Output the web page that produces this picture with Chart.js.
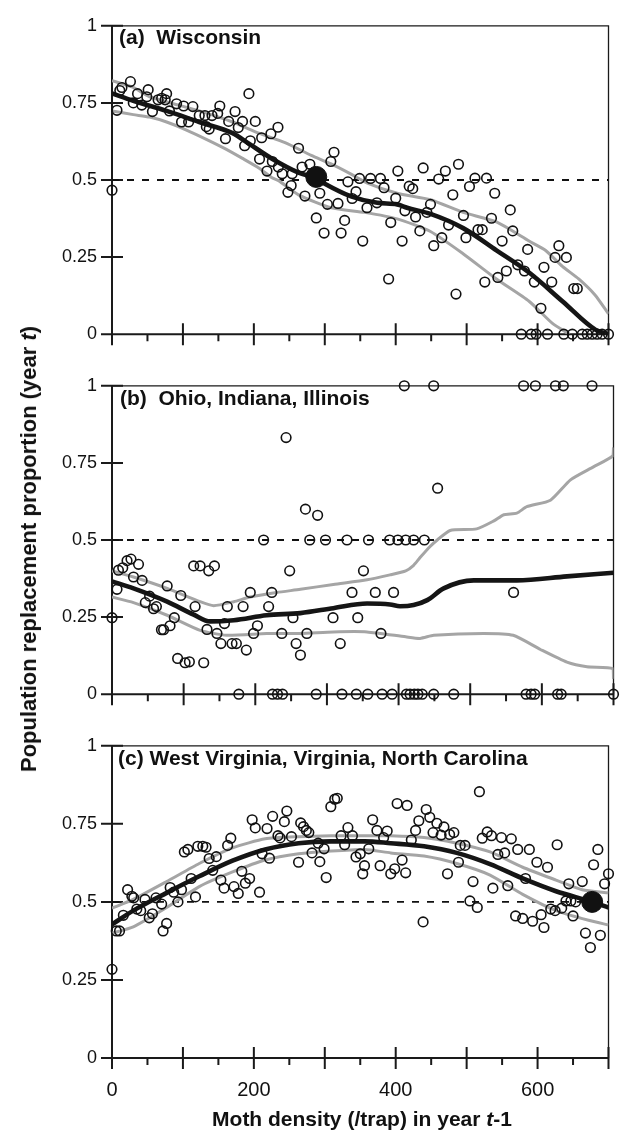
<!DOCTYPE html>
<html><head><meta charset="utf-8">
<script src="https://cdn.jsdelivr.net/npm/chart.js@4.4.1/dist/chart.umd.min.js"></script>
<style>
html,body{margin:0;padding:0;background:#fff;}
body{width:620px;height:1132px;position:relative;overflow:hidden;font-family:"Liberation Sans",Arial,Helvetica,sans-serif;color:#111;}
canvas{position:absolute;left:0;}
.ptitle{position:absolute;font-weight:bold;font-size:21px;line-height:21px;white-space:pre;}
#xtitle{position:absolute;font-weight:bold;font-size:21px;line-height:21px;white-space:pre;left:362px;top:1108px;transform:translateX(-50%);}
#ytitle{position:absolute;font-weight:bold;font-size:22px;line-height:22px;white-space:pre;left:29px;top:549px;transform:translate(-50%,-50%) rotate(-90deg);}
</style></head>
<body>
<canvas id="ca" width="620" height="360" style="top:0px"></canvas>
<canvas id="cb" width="620" height="360" style="top:360px"></canvas>
<canvas id="cc" width="620" height="412" style="top:720px"></canvas>
<div class="ptitle" id="ta" style="left:119px;top:26px"></div>
<div class="ptitle" id="tb" style="left:120px;top:387px"></div>
<div class="ptitle" id="tc" style="left:118px;top:747px"></div>
<div id="xtitle">Moth density (/trap) in year <i>t</i>-1</div>
<div id="ytitle">Population replacement proportion (year <i>t</i>)</div>
<script>
// ---- tick labels / titles ----
const xTickValues = [0, 200, 400, 600];
const xTickLabels = ['0', '200', '400', '600'];
const xMajorTicks = [0, 100, 200, 300, 400, 500, 600, 700];
const xMinorTicks = [50, 150, 250, 350, 450, 550, 650];
const yTickValues = [0, 0.25, 0.5, 0.75, 1];
const yTickLabels = ['0', '0.25', '0.5', '0.75', '1'];
const panelTitles = ['(a)  Wisconsin', '(b)  Ohio, Indiana, Illinois', '(c) West Virginia, Virginia, North Carolina'];
const refLevel = 0.5;

// ---- panel (a) Wisconsin ----
const aPtsX = [0,7,11,14,26,30,36,42,49,51,57,65,70,75,77,81,91,98,101,108,114,123,131,133,137,141,149,152,160,164.5,173.5,178,184,187,193,195,202,208,211,218.5,224,226,234,234.5,240,248,252.6,254,263,268,272,279,288,293,299,303.7,308.5,313,318.6,323,328,332.6,338.6,344,349,353.5,359.5,364.5,373.5,378.5,383.5,390,393,400,403,409,413,419,424,428,434,438.7,444,449,453.6,460.6,465,470,474.5,480.5,485,488.5,495.5,499,504,511.7,516,522,525.6,528,535,539.6,544,550,556,561.5,565,572,581.5,586,595.4,604.7,609,620,624.7,630,640.6,651,656,577,591,598,614,637,649,663,670,677,684,691,700];
const aPtsY = [0.467,0.726,0.79,0.80,0.819,0.75,0.78,0.743,0.77,0.793,0.722,0.76,0.765,0.76,0.78,0.724,0.747,0.688,0.74,0.688,0.738,0.709,0.709,0.673,0.665,0.709,0.716,0.74,0.634,0.69,0.722,0.67,0.69,0.611,0.78,0.627,0.69,0.568,0.637,0.529,0.65,0.56,0.671,0.542,0.52,0.46,0.482,0.52,0.603,0.542,0.448,0.551,0.377,0.457,0.328,0.421,0.56,0.59,0.424,0.328,0.369,0.494,0.44,0.462,0.505,0.302,0.41,0.505,0.426,0.505,0.475,0.179,0.362,0.441,0.529,0.302,0.40,0.48,0.472,0.38,0.335,0.539,0.395,0.421,0.287,0.503,0.313,0.529,0.354,0.452,0.13,0.551,0.385,0.313,0.479,0.506,0.339,0.339,0.169,0.506,0.376,0.457,0.184,0.302,0.205,0.403,0.335,0.225,0.205,0.275,0.169,0.084,0.217,0.169,0.249,0.287,0.249,0.148,0.148,0,0,0,0,0,0,0,0,0,0,0,0];
const aEquilX = [288];
const aEquilY = [0.51];
const aMeanX = [0,30,77,123,170,193,225,263,288,300,337,374,402,416,449,495,542,588,635,682,700];
const aMeanY = [0.781,0.757,0.724,0.688,0.652,0.618,0.57,0.524,0.505,0.488,0.447,0.426,0.421,0.41,0.39,0.344,0.272,0.2,0.107,0.014,0];
const aUpX = [0,30,53,123,170,207,244,281,309,337,360,402,449,495,542,588,611,635,658,681,700];
const aUpY = [0.822,0.80,0.77,0.724,0.688,0.652,0.621,0.58,0.552,0.519,0.49,0.457,0.436,0.395,0.364,0.302,0.272,0.22,0.179,0.127,0.066];
const aLowX = [0,30,53,77,105,133,160,184,207,225,235,263,309,356,402,449,495,542,588,621,645];
const aLowY = [0.724,0.712,0.704,0.688,0.662,0.632,0.601,0.57,0.539,0.508,0.498,0.452,0.41,0.395,0.374,0.333,0.261,0.179,0.107,0.035,0];

// ---- panel (b) Ohio, Indiana, Illinois ----
const bPtsX = [0,7,9,15,21,26.5,30,37,42,46.5,52.5,58,62,69,72,77,81,87,91.6,96,102,108,114,116,123,128,132.6,135,143,146.5,152,157,161,167.5,173.6,183,187.5,193,197.6,203,211.6,218.6,223,237,243,248,252.6,257,263,270,272,276,287,298,308.5,318.6,328,335,343,351,358,367.5,375.4,387.5,393,399,410,421,436,454.5,560.5,408,449,574.5,591,619,630,670,177,224,231,238,285,321,341,357,377,391,411,416,422,427,433,449,477,578,585,590,622,627,700];
const bPtsY = [0.248,0.34,0.402,0.41,0.433,0.438,0.38,0.421,0.369,0.297,0.318,0.277,0.284,0.209,0.209,0.351,0.222,0.248,0.116,0.32,0.102,0.105,0.416,0.284,0.416,0.102,0.21,0.4,0.416,0.197,0.164,0.229,0.284,0.164,0.164,0.284,0.143,0.33,0.197,0.222,0.5,0.284,0.33,0.197,0.832,0.4,0.248,0.164,0.127,0.6,0.197,0.5,0.58,0.5,0.248,0.164,0.5,0.33,0.248,0.4,0.5,0.33,0.197,0.5,0.33,0.5,0.5,0.5,0.5,0.668,0.33,1,1,1,1,1,1,1,0,0,0,0,0,0,0,0,0,0,0,0,0,0,0,0,0,0,0,0,0,0,0];
const bMeanX = [0,30,77,114,137,170,216,263,309,356,388,402,421,440,463,505,565,635,700];
const bMeanY = [0.366,0.343,0.3,0.258,0.236,0.24,0.256,0.263,0.279,0.294,0.291,0.285,0.289,0.305,0.343,0.369,0.369,0.382,0.394];
const bUpX = [0,30,77,123,142,170,193,230,263,309,356,388,410,421,430,444,454,472,509,533,547,565,579,612,640,672,699,700];
const bUpY = [0.40,0.38,0.343,0.3,0.287,0.3,0.315,0.33,0.34,0.356,0.371,0.387,0.40,0.418,0.443,0.479,0.5,0.531,0.536,0.562,0.582,0.587,0.608,0.629,0.695,0.737,0.773,0.80];
const bLowX = [0,30,77,123,160,216,263,309,356,410,430,449,519,560,598,635,663,699,700];
const bLowY = [0.315,0.297,0.256,0.207,0.191,0.197,0.197,0.202,0.202,0.186,0.181,0.191,0.197,0.191,0.145,0.104,0.089,0.083,0.05];

// ---- panel (c) West Virginia, Virginia, North Carolina ----
const cPtsX = [0,6,10.6,16,22,28,30.6,35,40.5,46.5,52.5,57,62,70,72,77,82,87,93,98,102,107,111.6,117.7,121,128,132.6,137,142,147,153.5,158,163,167.5,172,178,183,188,194,197.6,202,208,211.6,218.6,222,226.5,234,237,243,246.5,253,263,266,270,274,277.5,282,290.7,293,299,302,308.5,314,317.6,323,328,332.6,339,344,350,353.5,356,362,367.5,373.5,378,383,388,393,398.6,402,409,414,416,422,428,432.6,438.6,443,448,452.6,458,464,468,473,476,482,488.5,491,497.7,504.6,509,515,518,522,529,535,537,544,549,553.6,558,563,569,572,579,583,588.4,593,599,605,609,614,618.6,624.7,627.6,634,640,644,647,650,653.6,663,667.5,674.5,679,685,688.5,694.5,700];
const cPtsY = [0.284,0.407,0.407,0.457,0.539,0.518,0.513,0.477,0.472,0.508,0.449,0.462,0.513,0.493,0.407,0.431,0.546,0.531,0.5,0.539,0.66,0.668,0.575,0.516,0.678,0.678,0.675,0.639,0.601,0.645,0.57,0.544,0.681,0.704,0.549,0.527,0.598,0.56,0.575,0.763,0.737,0.531,0.654,0.735,0.64,0.774,0.712,0.705,0.757,0.791,0.709,0.627,0.753,0.741,0.729,0.722,0.657,0.688,0.629,0.67,0.578,0.805,0.829,0.832,0.712,0.683,0.738,0.712,0.644,0.654,0.59,0.616,0.67,0.763,0.729,0.616,0.706,0.727,0.59,0.606,0.815,0.634,0.593,0.809,0.698,0.729,0.76,0.436,0.796,0.771,0.722,0.752,0.714,0.74,0.59,0.716,0.722,0.627,0.681,0.681,0.503,0.565,0.482,0.853,0.704,0.724,0.712,0.544,0.652,0.706,0.657,0.552,0.702,0.455,0.668,0.447,0.575,0.668,0.438,0.627,0.459,0.418,0.611,0.477,0.472,0.683,0.48,0.503,0.558,0.503,0.455,0.5,0.565,0.4,0.354,0.619,0.668,0.393,0.558,0.59];
const cEquilX = [677];
const cEquilY = [0.5];
const cMeanX = [0,30,77,123,170,216,263,309,356,393,440,486,533,579,626,677,700];
const cMeanY = [0.428,0.472,0.529,0.582,0.632,0.668,0.688,0.694,0.694,0.688,0.678,0.657,0.621,0.575,0.534,0.5,0.482];
const cUpX = [0,30,77,123,170,216,263,309,356,393,440,486,533,579,626,663,700];
const cUpY = [0.48,0.508,0.565,0.623,0.673,0.702,0.709,0.712,0.712,0.712,0.706,0.688,0.66,0.611,0.57,0.539,0.529];
const cLowX = [0,30,77,123,170,216,263,309,356,393,440,486,533,579,626,672,700];
const cLowY = [0.40,0.42,0.482,0.549,0.596,0.634,0.654,0.663,0.668,0.657,0.647,0.623,0.586,0.524,0.472,0.441,0.426];

// ---- helpers ----
const pts = (xs, ys) => xs.map((x, i) => ({x: x, y: ys[i]}));
Chart.defaults.font.family = '"Liberation Sans", Arial, Helvetica, sans-serif';
Chart.defaults.color = '#111';

const framePlugin = {
  id: 'frame',
  beforeDatasetsDraw(chart) {
    const ctx = chart.ctx, ca = chart.chartArea;
    const xs = chart.scales.x, ys = chart.scales.y;
    ctx.save();
    ctx.strokeStyle = '#1a1a1a';
    ctx.lineCap = 'butt';
    ctx.lineWidth = 1.3;
    ctx.beginPath();
    ctx.moveTo(ca.left, ca.top); ctx.lineTo(ca.right, ca.top); ctx.lineTo(ca.right, ca.bottom);
    ctx.stroke();
    ctx.lineWidth = 2;
    ctx.beginPath();
    ctx.moveTo(ca.left, ca.top - 0.6); ctx.lineTo(ca.left, ca.bottom);
    ctx.moveTo(ca.left, ca.bottom); ctx.lineTo(ca.right + 0.6, ca.bottom);
    yTickValues.forEach(v => { const y = ys.getPixelForValue(v); ctx.moveTo(ca.left - 11, y); ctx.lineTo(ca.left + 11, y); });
    xMajorTicks.forEach(v => { const x = xs.getPixelForValue(v); ctx.moveTo(x, ca.bottom - 11); ctx.lineTo(x, ca.bottom + 11); });
    xMinorTicks.forEach(v => { const x = xs.getPixelForValue(v); ctx.moveTo(x, ca.bottom); ctx.lineTo(x, ca.bottom + 7); });
    ctx.stroke();
    ctx.restore();
  }
};

function makePanel(id, p, showX, xh) {
  const datasets = [];
  if (p.eq) datasets.push({data: p.eq, showLine: false, pointRadius: 10.5, backgroundColor: '#111', borderColor: '#111', borderWidth: 1, clip: false});
  datasets.push({data: p.pts, showLine: false, pointRadius: 4.8, borderWidth: 1.6, borderColor: '#111', backgroundColor: 'rgba(0,0,0,0)', clip: false});
  datasets.push({data: p.mean, showLine: true, pointRadius: 0, borderColor: '#151515', borderWidth: 4.6, tension: 0.3, cubicInterpolationMode: 'monotone'});
  datasets.push({data: p.up, showLine: true, pointRadius: 0, borderColor: '#a5a5a5', borderWidth: 3, tension: 0.2});
  datasets.push({data: p.low, showLine: true, pointRadius: 0, borderColor: '#a5a5a5', borderWidth: 3, tension: 0.2});
  datasets.push({data: [{x: 0, y: refLevel}, {x: 700, y: refLevel}], showLine: true, pointRadius: 0, borderColor: '#111', borderWidth: 1.8, borderDash: [7, 8]});
  return new Chart(document.getElementById(id), {
    type: 'scatter',
    data: {datasets: datasets},
    options: {
      responsive: false, animation: false, events: [], devicePixelRatio: 1,
      layout: {padding: {left: 0, right: 6.5, top: 14, bottom: 0}},
      plugins: {legend: {display: false}, tooltip: {enabled: false}},
      scales: {
        x: {type: 'linear', min: 0, max: 700,
            grid: {display: false, drawTicks: false}, border: {display: false},
            ticks: {display: showX, autoSkip: false, maxRotation: 0, padding: 20, font: {size: 20}, color: '#111',
                    callback: (v) => { const i = xTickValues.indexOf(v); return i >= 0 ? xTickLabels[i] : ''; }},
            afterBuildTicks: (s) => { s.ticks = xTickValues.map(v => ({value: v})); },
            afterFit: (s) => { s.height = xh; }},
        y: {type: 'linear', min: 0, max: 1,
            grid: {display: false, drawTicks: false}, border: {display: false},
            ticks: {autoSkip: false, padding: 15, font: {size: 18}, color: '#111',
                    callback: (v) => { const i = yTickValues.indexOf(v); return i >= 0 ? yTickLabels[i] : ''; }},
            afterBuildTicks: (s) => { s.ticks = yTickValues.map(v => ({value: v})); },
            afterFit: (s) => { s.width = 112; }}
      }
    },
    plugins: [framePlugin]
  });
}

document.getElementById('ta').textContent = panelTitles[0];
document.getElementById('tb').textContent = panelTitles[1];
document.getElementById('tc').textContent = panelTitles[2];

makePanel('ca', {pts: pts(aPtsX, aPtsY), eq: pts(aEquilX, aEquilY), mean: pts(aMeanX, aMeanY), up: pts(aUpX, aUpY), low: pts(aLowX, aLowY)}, false, 22);
makePanel('cb', {pts: pts(bPtsX, bPtsY), eq: null, mean: pts(bMeanX, bMeanY), up: pts(bUpX, bUpY), low: pts(bLowX, bLowY)}, false, 22);
makePanel('cc', {pts: pts(cPtsX, cPtsY), eq: pts(cEquilX, cEquilY), mean: pts(cMeanX, cMeanY), up: pts(cUpX, cUpY), low: pts(cLowX, cLowY)}, true, 74);
</script>
</body></html>
